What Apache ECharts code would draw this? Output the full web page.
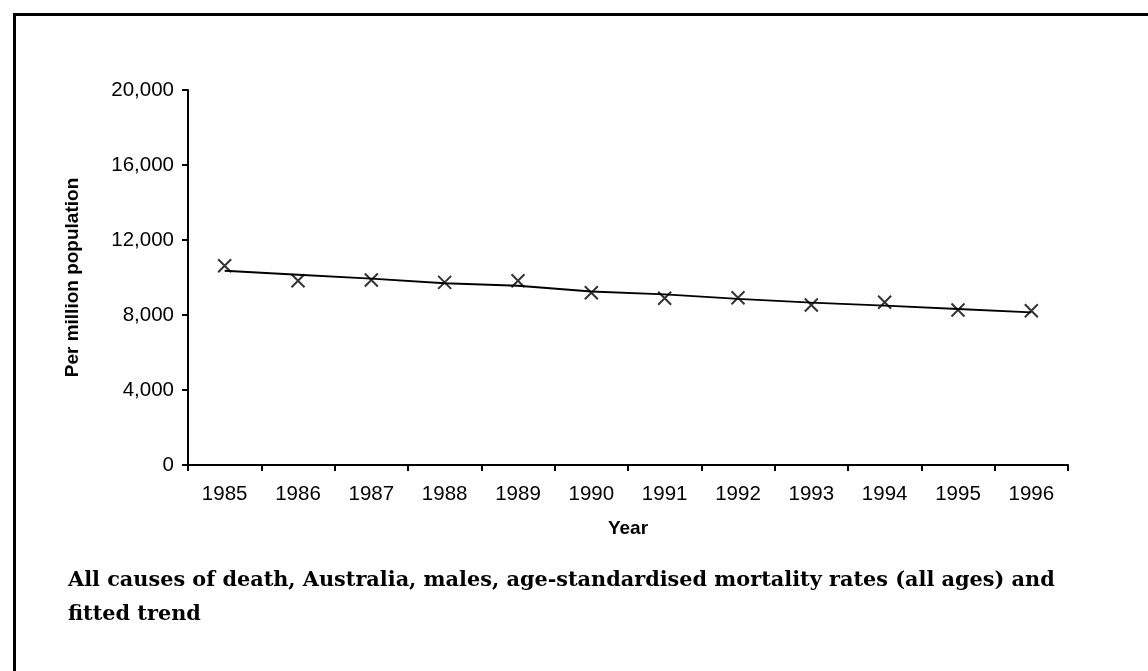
<!DOCTYPE html>
<html>
<head>
<meta charset="utf-8">
<script src="https://cdn.jsdelivr.net/npm/echarts@6/dist/echarts.min.js"></script>
<style>
html,body{margin:0;padding:0;background:#fff;}
#chart{width:1148px;height:671px;}
</style>
</head>
<body>
<div id="chart"></div>
<script>
var years = ['1985','1986','1987','1988','1989','1990','1991','1992','1993','1994','1995','1996'];
var observedRates = [10630, 9830, 9870, 9740, 9830, 9190, 8890, 8920, 8530, 8680, 8270, 8230];
var fittedTrend = [10360, 10150, 9940, 9690, 9560, 9250, 9100, 8860, 8660, 8500, 8320, 8140];
var yTicks = [0, 4000, 8000, 12000, 16000, 20000];
var captionLines = ['All causes of death, Australia, males, age-standardised mortality rates (all ages) and', 'fitted trend'];

var chart = echarts.init(document.getElementById('chart'), null, {renderer: 'canvas'});
var axisFont = {fontFamily: 'Liberation Sans, Arial, sans-serif', fontSize: 20.5, color: '#000'};
chart.setOption({
  animation: false,
  backgroundColor: '#fff',
  grid: {left: 188, right: 80, top: 90, bottom: 206, containLabel: false},
  graphic: [
    {type: 'rect', left: 12, top: 12, shape: {width: 1200, height: 700}, style: {fill: 'none', stroke: '#000', lineWidth: 3}, z: 100}
  ],
  title: {
    text: captionLines.join('\n'),
    left: 63, top: 559,
    textStyle: {fontFamily: 'DejaVu Serif, serif', fontWeight: 'bold', fontSize: 20.8, color: '#000', lineHeight: 34}
  },
  xAxis: {
    type: 'category',
    data: years,
    boundaryGap: true,
    name: 'Year',
    nameLocation: 'middle',
    nameGap: 54,
    nameTextStyle: {fontFamily: 'Liberation Sans, Arial, sans-serif', fontSize: 19, fontWeight: 'bold', color: '#000'},
    axisLine: {lineStyle: {color: '#000', width: 2}},
    axisTick: {show: true, length: 6, lineStyle: {color: '#000', width: 2}},
    axisLabel: Object.assign({margin: 19}, axisFont),
    splitLine: {show: false}
  },
  yAxis: {
    type: 'value',
    min: yTicks[0],
    max: yTicks[yTicks.length - 1],
    interval: yTicks[1] - yTicks[0],
    name: 'Per million population',
    nameLocation: 'middle',
    nameGap: 106,
    nameRotate: 90,
    nameTextStyle: {fontFamily: 'Liberation Sans, Arial, sans-serif', fontSize: 19, fontWeight: 'bold', color: '#000'},
    axisLine: {show: true, lineStyle: {color: '#000', width: 2}},
    axisTick: {show: true, length: 6, lineStyle: {color: '#000', width: 2}},
    axisLabel: Object.assign({margin: 14, formatter: function (v) { return v.toLocaleString('en-US'); }}, axisFont),
    splitLine: {show: false}
  },
  series: [
    {
      name: 'Fitted trend',
      type: 'line',
      data: fittedTrend,
      symbol: 'none',
      lineStyle: {color: '#000', width: 2},
      z: 2
    },
    {
      name: 'Observed',
      type: 'scatter',
      data: observedRates,
      symbol: 'path://M0,0L10,10M10,0L0,10',
      symbolSize: 13,
      itemStyle: {color: 'none', borderColor: '#000', borderWidth: 2},
      z: 3
    }
  ]
});
</script>
</body>
</html>
